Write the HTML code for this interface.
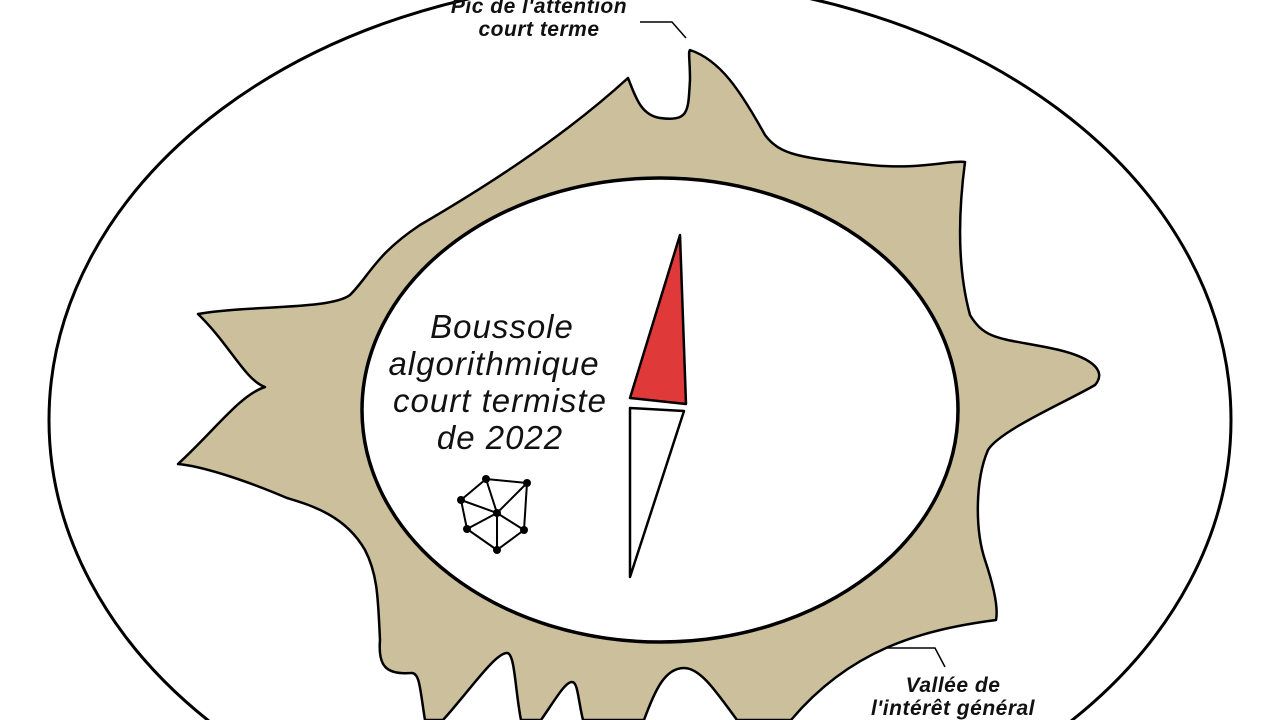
<!DOCTYPE html>
<html><head><meta charset="utf-8"><style>
html,body{margin:0;padding:0;background:#fff;width:1280px;height:720px;overflow:hidden;}
svg{display:block}
</style></head><body>
<svg width="1280" height="720" viewBox="0 0 1280 720" xmlns="http://www.w3.org/2000/svg" overflow="hidden">
<ellipse cx="640" cy="420" rx="591" ry="440" fill="#fff" stroke="#000" stroke-width="3"/>
<path d="M198,314 C250,305 330,310 350,295 C370,275 375,255 420,225 C480,190 560,140 628,78 C635,95 640,115 660,118 C690,122 688,110 690,80 C690,60 688,52 690,50 C720,60 740,90 765,135 C780,155 800,158 870,165 C920,170 950,160 965,162 C960,200 955,260 970,315 C985,340 1000,338 1050,348 C1090,356 1108,370 1095,385 C1070,400 1000,430 988,450 C975,480 975,530 985,560 C995,590 998,610 996,620 C920,630 850,650 791,720 L737,720 C715,690 700,668 684,668 C665,668 655,690 644,720 L583,720 C578,700 578,682 572,682 C565,682 555,700 541,720 L521,720 C515,690 515,653 507,653 C495,653 470,690 443,720 L425,720 C420,690 420,672 411,673 C385,675 378,665 380,640 C378,600 378,575 365,550 C345,515 310,505 287,498 C240,478 200,466 178,464 C215,430 240,395 265,387 C245,380 230,345 198,314 Z" fill="#ccc09c" stroke="#000" stroke-width="2.5" stroke-linejoin="round"/>
<ellipse cx="660" cy="410" rx="298" ry="232" fill="#fff" stroke="#000" stroke-width="3.5"/>
<polygon points="680,235 630,398 686,404" fill="#e0393a" stroke="#000" stroke-width="2.5" stroke-linejoin="round"/>
<polygon points="630,408 684,411 630,577" fill="#fff" stroke="#000" stroke-width="2.5" stroke-linejoin="round"/>
<g font-family="'Liberation Sans',sans-serif" font-style="italic" font-size="33" letter-spacing="1" text-anchor="middle" fill="#111">
<text x="502" y="338">Boussole</text>
<text x="494" y="375">algorithmique</text>
<text x="500" y="412">court termiste</text>
<text x="500" y="449">de 2022</text>
</g>
<g stroke="#000" stroke-width="2">
<line x1="486" y1="479" x2="527" y2="483"/><line x1="486" y1="479" x2="461" y2="500"/><line x1="486" y1="479" x2="497" y2="513"/>
<line x1="527" y1="483" x2="497" y2="513"/><line x1="527" y1="483" x2="524" y2="530"/><line x1="461" y1="500" x2="497" y2="513"/>
<line x1="461" y1="500" x2="467" y2="529"/><line x1="497" y1="513" x2="467" y2="529"/><line x1="497" y1="513" x2="524" y2="530"/>
<line x1="497" y1="513" x2="497" y2="550"/><line x1="467" y1="529" x2="497" y2="550"/><line x1="524" y1="530" x2="497" y2="550"/>
</g>
<g fill="#000">
<circle cx="486" cy="479" r="4"/><circle cx="527" cy="483" r="4"/><circle cx="461" cy="500" r="4"/><circle cx="497" cy="513" r="4"/>
<circle cx="467" cy="529" r="4"/><circle cx="524" cy="530" r="4"/><circle cx="497" cy="550" r="4"/>
</g>
<polyline points="640,22 672,22 686,38" fill="none" stroke="#000" stroke-width="1.5"/>
<polyline points="885,648 935,648 945,667" fill="none" stroke="#000" stroke-width="1.5"/>
<g font-family="'Liberation Sans',sans-serif" font-style="italic" font-weight="bold" font-size="21" letter-spacing="0.5" text-anchor="middle" fill="#111">
<text x="539" y="13">Pic de l'attention</text>
<text x="539" y="36">court terme</text>
<text x="953" y="692">Vallée de</text>
<text x="953" y="715">l'intérêt général</text>
</g>
</svg>
</body></html>
